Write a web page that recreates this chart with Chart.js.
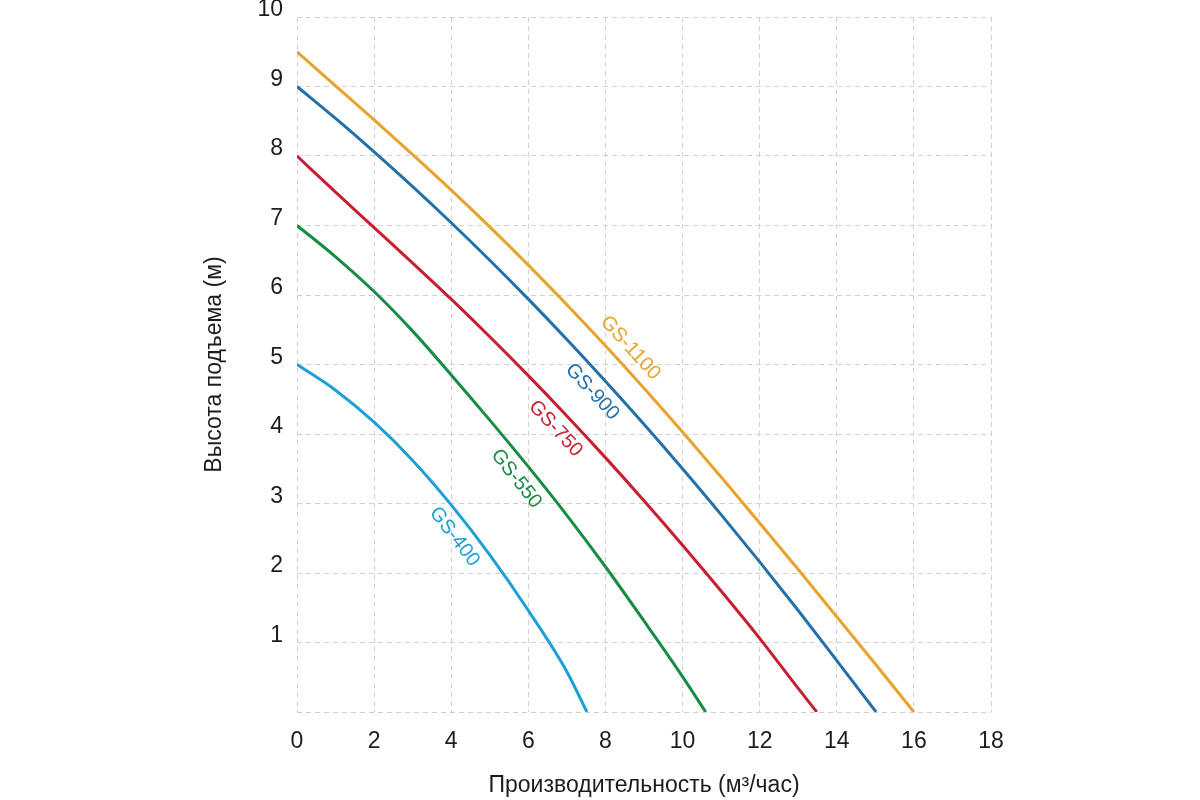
<!DOCTYPE html>
<html>
<head>
<meta charset="utf-8">
<script src="https://cdn.jsdelivr.net/npm/chart.js@4.4.1/dist/chart.umd.min.js"></script>
<style>
html,body{margin:0;padding:0;background:#ffffff;}
#wrap{width:1200px;height:800px;}
</style>
</head>
<body>
<div id="wrap"><canvas id="c" width="1200" height="800"></canvas></div>
<script>
// ---- data ----
const seriesNames = ['GS-400', 'GS-550', 'GS-750', 'GS-900', 'GS-1100'];

const gs400Flow = [0, 1, 2, 3, 4, 5, 6, 7, 7.52];
const gs400Head = [5, 4.63, 4.17, 3.62, 2.98, 2.26, 1.46, 0.58, 0];

const gs550Flow = [0, 1, 2, 3, 4, 5, 6, 7, 8, 9, 10, 10.6];
const gs550Head = [7, 6.55, 6.05, 5.48, 4.85, 4.2, 3.53, 2.83, 2.09, 1.31, 0.51, 0];

const gs750Flow = [0, 1, 2, 3, 4, 5, 6, 7, 8, 9, 10, 11, 12, 13, 13.48];
const gs750Head = [8, 7.48, 6.97, 6.46, 5.94, 5.4, 4.84, 4.26, 3.66, 3.04, 2.4, 1.74, 1.06, 0.34, 0];

const gs900Flow = [0, 1, 2, 3, 4, 5, 6, 7, 8, 9, 10, 11, 12, 13, 14, 15.02];
const gs900Head = [9, 8.54, 8.06, 7.56, 7.04, 6.5, 5.94, 5.36, 4.76, 4.14, 3.5, 2.84, 2.16, 1.46, 0.74, 0];

const gs1100Flow = [0, 1, 2, 3, 4, 5, 6, 7, 8, 9, 10, 11, 12, 13, 14, 15, 16];
const gs1100Head = [9.5, 9.01, 8.52, 8.02, 7.51, 6.98, 6.43, 5.86, 5.27, 4.66, 4.03, 3.38, 2.72, 2.05, 1.37, 0.69, 0];

const xTicks = [0, 2, 4, 6, 8, 10, 12, 14, 16, 18];
const yTicks = ['', '1', '2', '3', '4', '5', '6', '7', '8', '9', '10'];
const xTitle = 'Производительность (м³/час)';
const yTitle = 'Высота подъема (м)';

// label anchor (flow value along each curve) and side of the curve
const labelAt = [4.43, 6.03, 7.03, 7.98, 8.32];
const labelSide = [-1, -1, -1, -1, 1];

// ---- styles ----
const colors = ['#1ea0d7', '#178c45', '#c81e32', '#2470a8', '#e9a22c'];
const FONT = '"Liberation Sans", Arial, sans-serif';
const textColor = '#1c1c1c';
const gridColor = '#d2d2d2';

const flows = [gs400Flow, gs550Flow, gs750Flow, gs900Flow, gs1100Flow];
const heads = [gs400Head, gs550Head, gs750Head, gs900Head, gs1100Head];

const datasets = seriesNames.map((name, i) => ({
  label: name,
  data: flows[i].map((f, j) => ({x: f, y: heads[i][j]})),
  borderColor: colors[i],
  backgroundColor: colors[i],
  borderWidth: 3,
  pointRadius: 0,
  fill: false,
  cubicInterpolationMode: 'monotone'
}));

const curveLabels = {
  id: 'curveLabels',
  afterDatasetsDraw(chart) {
    const ctx = chart.ctx;
    const xs = chart.scales.x;
    const gap = 17;
    chart.data.datasets.forEach((ds, i) => {
      const pts = chart.getDatasetMeta(i).data;
      const px = xs.getPixelForValue(labelAt[i]);
      let k = 0;
      while (k < pts.length - 2 && pts[k + 1].x < px) k++;
      const a = pts[k], b = pts[k + 1];
      const t = (px - a.x) / (b.x - a.x);
      const py = a.y + t * (b.y - a.y);
      let dx = b.x - a.x, dy = b.y - a.y;
      const len = Math.hypot(dx, dy);
      dx /= len; dy /= len;
      const nx = dy, ny = -dx;
      const off = labelSide[i] * gap;
      ctx.save();
      ctx.translate(px + nx * off, py + ny * off);
      ctx.rotate(Math.atan2(dy, dx));
      ctx.font = '20px ' + FONT;
      ctx.fillStyle = ds.borderColor;
      ctx.textAlign = 'center';
      ctx.textBaseline = 'middle';
      ctx.fillText(ds.label, 0, 0);
      ctx.restore();
    });
  }
};

new Chart(document.getElementById('c'), {
  type: 'line',
  data: {datasets},
  plugins: [curveLabels],
  options: {
    responsive: false,
    animation: false,
    layout: {padding: {left: 190, right: 209, top: 17, bottom: 0}},
    plugins: {legend: {display: false}, tooltip: {enabled: false}},
    scales: {
      x: {
        type: 'linear',
        min: xTicks[0],
        max: xTicks[xTicks.length - 1],
        afterBuildTicks(s) { s.ticks = xTicks.map(v => ({value: v})); },
        afterFit(s) { s.height = 88; s.paddingLeft = 0; s.paddingRight = 0; },
        ticks: {
          font: {family: FONT, size: 23},
          color: textColor,
          padding: 16,
          maxRotation: 0,
          callback: v => String(v)
        },
        grid: {color: gridColor, lineWidth: 1, drawTicks: false},
        border: {display: false, dash: [5, 4]},
        title: {display: true, text: xTitle, font: {family: FONT, size: 23}, color: textColor, padding: {top: 0, bottom: 1}}
      },
      y: {
        type: 'linear',
        min: 0,
        max: 10,
        afterBuildTicks(s) { s.ticks = yTicks.map((t, i) => ({value: i})); },
        afterFit(s) { s.width = 107; s.paddingTop = 0; s.paddingBottom = 0; },
        ticks: {
          font: {family: FONT, size: 23},
          color: textColor,
          padding: 14,
          labelOffset: -7,
          callback: (v) => yTicks[v]
        },
        grid: {color: gridColor, lineWidth: 1, drawTicks: false},
        border: {display: false, dash: [5, 4]},
        title: {display: true, text: yTitle, font: {family: FONT, size: 23}, color: textColor, padding: {top: 11, bottom: 0}}
      }
    }
  }
});
</script>
</body>
</html>
